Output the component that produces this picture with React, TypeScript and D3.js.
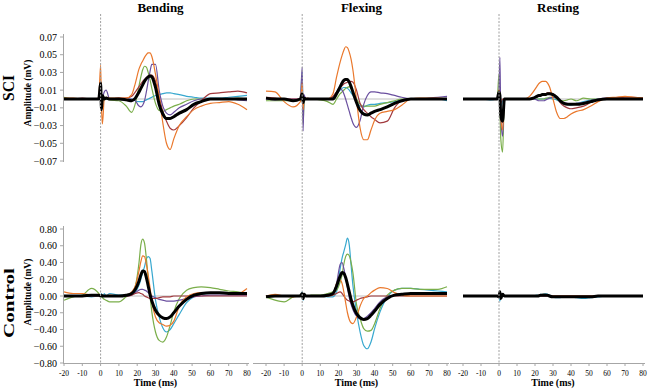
import * as d3 from "d3";

// time points (ms) shared by every trace
const TIME = [-20, -15, -10, -5, -1, 0, 0.5, 1, 2, 3, 5, 10, 14, 17, 19, 21, 22, 23, 24, 25, 26, 27, 28, 30, 32, 34, 36, 38, 40, 43, 47, 51, 55, 60, 65, 70, 75, 80];

// SCI - Bending (mV)
const sciBendOrange = [0.001, 0.001, 0.000, 0.000, 0.001, 0.038, -0.010, -0.028, 0.000, 0.002, 0.001, 0.001, 0.001, 0.005, 0.018, 0.034, 0.039, 0.043, 0.047, 0.050, 0.052, 0.052, 0.048, 0.028, 0.003, -0.027, -0.050, -0.057, -0.045, -0.030, -0.020, -0.012, -0.008, -0.005, -0.004, -0.003, -0.006, -0.012];
const sciBendGreen = [0.002, 0.000, 0.000, 0.000, 0.000, 0.004, 0.000, -0.003, 0.000, 0.000, -0.001, -0.002, -0.008, -0.015, -0.005, 0.015, 0.025, 0.033, 0.037, 0.036, 0.030, 0.022, 0.012, -0.005, -0.013, -0.014, -0.012, -0.010, -0.008, -0.006, -0.002, 0.000, 0.000, 0.000, 0.000, 0.000, 0.001, 0.000];
const sciBendPurple = [0.000, 0.000, 0.000, 0.000, 0.000, 0.003, -0.005, 0.000, 0.008, 0.010, 0.000, 0.001, 0.000, 0.000, -0.002, -0.008, -0.009, -0.007, -0.002, 0.008, 0.020, 0.031, 0.039, 0.039, 0.010, -0.008, -0.016, -0.018, -0.015, -0.010, -0.006, -0.002, 0.000, 0.000, 0.000, 0.000, -0.001, -0.002];
const sciBendTeal = [0.001, 0.000, 0.000, 0.000, 0.000, 0.002, 0.000, 0.000, 0.000, 0.000, 0.000, 0.000, 0.000, 0.000, -0.002, -0.003, -0.003, -0.003, -0.002, -0.001, 0.000, 0.001, 0.002, 0.004, 0.005, 0.006, 0.007, 0.007, 0.006, 0.005, 0.003, 0.002, 0.001, 0.001, 0.001, 0.002, 0.003, 0.004];
const sciBendRed = [0.000, 0.000, 0.001, 0.000, 0.000, 0.002, 0.000, 0.000, 0.001, 0.001, 0.000, 0.001, 0.001, 0.003, 0.008, 0.014, 0.017, 0.020, 0.022, 0.024, 0.026, 0.027, 0.027, 0.020, 0.002, -0.014, -0.025, -0.033, -0.035, -0.030, -0.021, -0.010, -0.002, 0.006, 0.007, 0.008, 0.009, 0.007];
const sciBendMean = [0.000, 0.000, 0.000, 0.000, 0.000, 0.018, -0.012, 0.004, 0.000, 0.001, 0.000, 0.000, -0.001, -0.002, 0.001, 0.008, 0.012, 0.016, 0.020, 0.023, 0.025, 0.026, 0.025, 0.013, -0.006, -0.017, -0.022, -0.022, -0.020, -0.016, -0.012, -0.006, -0.003, 0.000, 0.000, 0.000, 0.000, 0.000];

// SCI - Flexing
const sciFlexOrange = [0.009, 0.008, -0.003, -0.009, -0.003, 0.018, -0.012, 0.000, 0.001, 0.000, 0.000, 0.000, 0.000, 0.006, 0.025, 0.042, 0.049, 0.055, 0.059, 0.058, 0.053, 0.045, 0.033, -0.001, -0.033, -0.046, -0.046, -0.035, -0.024, -0.016, -0.014, -0.012, -0.007, 0.000, 0.001, 0.001, 0.001, 0.000];
const sciFlexGreen = [-0.002, -0.002, -0.002, -0.002, 0.000, 0.010, -0.027, -0.005, 0.000, 0.000, 0.000, -0.001, -0.003, -0.006, 0.000, 0.006, 0.008, 0.010, 0.012, 0.013, 0.014, 0.012, 0.008, 0.000, -0.006, -0.008, -0.008, -0.008, -0.008, -0.006, -0.004, -0.002, 0.000, 0.000, 0.000, 0.000, 0.000, 0.000];
const sciFlexPurple = [0.000, -0.001, 0.000, 0.000, 0.000, 0.036, -0.036, 0.005, 0.000, 0.000, 0.000, 0.000, 0.000, 0.002, 0.008, 0.012, 0.010, 0.006, 0.000, -0.007, -0.014, -0.021, -0.027, -0.032, -0.024, -0.006, 0.004, 0.008, 0.008, 0.007, 0.006, 0.004, 0.002, 0.000, 0.000, 0.001, 0.002, 0.003];
const sciFlexTeal = [0.001, 0.000, 0.000, -0.001, 0.000, 0.030, -0.020, 0.000, 0.000, 0.000, 0.000, 0.000, 0.000, 0.002, 0.006, 0.010, 0.012, 0.013, 0.013, 0.012, 0.010, 0.007, 0.004, -0.003, -0.008, -0.009, -0.007, -0.006, -0.006, -0.005, -0.004, -0.003, -0.001, 0.000, 0.000, 0.000, 0.000, -0.002];
const sciFlexRed = [0.002, 0.001, 0.000, 0.000, 0.000, 0.005, -0.005, 0.000, 0.000, 0.001, 0.000, 0.000, 0.000, 0.003, 0.008, 0.013, 0.015, 0.017, 0.018, 0.019, 0.020, 0.020, 0.019, 0.010, -0.005, -0.012, -0.016, -0.020, -0.023, -0.027, -0.025, -0.010, -0.002, 0.000, 0.000, 0.000, 0.000, 0.000];
const sciFlexMean = [0.001, 0.000, 0.000, -0.002, 0.000, 0.006, -0.004, 0.001, 0.000, 0.000, 0.000, 0.000, 0.000, 0.000, 0.006, 0.014, 0.018, 0.021, 0.022, 0.022, 0.019, 0.014, 0.008, -0.004, -0.013, -0.017, -0.018, -0.016, -0.014, -0.012, -0.009, -0.005, -0.002, 0.000, 0.000, 0.000, 0.000, 0.000];

// SCI - Resting
const sciRestOrange = [0.000, 0.000, 0.000, 0.000, 0.000, 0.010, 0.005, -0.020, -0.035, 0.000, 0.000, 0.000, 0.000, 0.003, 0.008, 0.014, 0.017, 0.019, 0.020, 0.020, 0.020, 0.018, 0.014, 0.000, -0.015, -0.022, -0.022, -0.020, -0.017, -0.014, -0.012, -0.008, -0.003, 0.001, 0.002, 0.003, 0.002, 0.001];
const sciRestGreen = [0.000, 0.000, 0.000, 0.000, 0.000, 0.028, -0.010, -0.045, -0.060, 0.000, 0.000, 0.000, 0.000, 0.000, 0.000, 0.000, 0.000, 0.000, 0.000, 0.000, 0.001, 0.001, 0.002, 0.002, 0.000, -0.002, -0.002, -0.001, 0.000, -0.002, 0.001, 0.000, 0.000, 0.000, 0.000, 0.000, 0.000, 0.000];
const sciRestPurple = [0.000, 0.000, 0.000, 0.000, 0.000, 0.010, 0.047, -0.020, -0.042, 0.000, 0.000, 0.000, 0.000, 0.000, 0.000, -0.001, -0.002, -0.002, -0.002, -0.002, -0.001, 0.000, 0.001, 0.002, 0.001, -0.002, -0.004, -0.005, -0.006, -0.005, -0.004, -0.002, 0.000, 0.001, 0.001, 0.000, 0.000, 0.000];
const sciRestTeal = [0.000, 0.000, 0.000, -0.001, 0.000, 0.003, -0.006, -0.008, -0.002, 0.000, 0.000, 0.000, 0.000, 0.000, 0.000, 0.000, 0.000, 0.000, 0.000, 0.000, 0.000, 0.001, 0.001, 0.000, -0.001, -0.003, -0.005, -0.006, -0.007, -0.005, -0.003, -0.001, 0.000, 0.000, 0.000, 0.000, 0.000, 0.000];
const sciRestRed = [0.000, 0.000, 0.000, 0.000, 0.000, 0.005, 0.000, -0.005, 0.000, 0.000, 0.000, 0.000, 0.000, 0.000, 0.001, 0.002, 0.003, 0.004, 0.004, 0.005, 0.006, 0.007, 0.007, 0.006, 0.002, -0.004, -0.008, -0.010, -0.011, -0.010, -0.008, -0.004, -0.001, 0.001, 0.001, 0.002, 0.002, 0.001];
const sciRestMean = [0.000, 0.000, 0.000, 0.000, 0.000, 0.008, 0.004, -0.020, -0.025, 0.000, 0.000, 0.000, 0.000, 0.000, 0.001, 0.003, 0.004, 0.004, 0.005, 0.005, 0.005, 0.006, 0.006, 0.005, 0.002, -0.002, -0.005, -0.006, -0.006, -0.006, -0.005, -0.003, -0.001, 0.000, 0.000, 0.000, 0.000, 0.000];

// Control - Bending
const ctlBendOrange = [0.05, 0.03, 0.03, 0.01, 0.02, 0.00, 0.01, 0.00, 0.00, 0.00, 0.01, 0.00, 0.01, 0.05, 0.12, 0.30, 0.41, 0.48, 0.47, 0.38, 0.25, 0.10, -0.07, -0.25, -0.32, -0.34, -0.36, -0.35, -0.30, -0.12, -0.01, 0.03, 0.04, 0.04, 0.04, 0.03, 0.03, 0.09];
const ctlBendGreen = [-0.05, -0.01, 0.01, 0.09, 0.03, 0.00, -0.01, -0.02, -0.04, -0.05, -0.07, -0.07, -0.01, 0.03, 0.12, 0.40, 0.61, 0.68, 0.63, 0.45, 0.21, 0.00, -0.19, -0.43, -0.53, -0.55, -0.49, -0.35, -0.19, -0.03, 0.07, 0.10, 0.11, 0.10, 0.08, 0.06, 0.05, 0.03];
const ctlBendPurple = [0.00, 0.00, 0.00, 0.00, 0.00, 0.00, 0.00, 0.00, 0.00, 0.00, 0.00, 0.00, 0.00, 0.01, 0.04, 0.07, 0.08, 0.08, 0.07, 0.06, 0.04, 0.02, 0.00, -0.02, -0.04, -0.05, -0.06, -0.06, -0.06, -0.05, -0.03, -0.01, 0.00, 0.01, 0.01, 0.01, 0.01, 0.01];
const ctlBendTeal = [0.00, 0.00, 0.00, -0.01, 0.00, 0.00, 0.03, -0.02, 0.03, 0.00, 0.03, 0.01, 0.01, 0.03, 0.05, 0.13, 0.20, 0.28, 0.35, 0.44, 0.47, 0.45, 0.30, -0.05, -0.25, -0.38, -0.43, -0.40, -0.33, -0.22, -0.08, -0.01, 0.02, 0.03, 0.03, 0.03, 0.03, 0.02];
const ctlBendRed = [0.00, 0.00, 0.00, 0.00, 0.00, 0.00, 0.00, 0.00, 0.00, 0.00, 0.00, 0.00, 0.00, 0.01, 0.03, 0.04, 0.03, 0.02, 0.00, -0.01, -0.02, -0.03, -0.03, -0.03, -0.02, -0.01, -0.01, -0.01, 0.00, 0.00, 0.00, 0.00, 0.00, 0.00, 0.00, 0.00, 0.00, 0.00];
const ctlBendMean = [0.00, 0.00, 0.00, 0.01, 0.01, 0.00, 0.01, 0.00, 0.00, 0.00, 0.00, 0.00, 0.01, 0.03, 0.08, 0.18, 0.25, 0.30, 0.29, 0.22, 0.12, 0.02, -0.06, -0.17, -0.23, -0.26, -0.27, -0.25, -0.20, -0.12, -0.04, 0.01, 0.03, 0.04, 0.04, 0.03, 0.03, 0.03];

// Control - Flexing
const ctlFlexOrange = [0.00, 0.02, 0.00, -0.01, 0.00, 0.00, 0.00, 0.00, 0.00, 0.00, 0.00, 0.00, 0.00, 0.02, 0.15, 0.19, 0.15, 0.05, -0.08, -0.20, -0.28, -0.32, -0.33, -0.25, -0.12, -0.03, 0.00, 0.04, 0.07, 0.10, 0.09, 0.04, 0.01, 0.00, 0.00, 0.00, 0.00, 0.00];
const ctlFlexGreen = [-0.01, -0.05, -0.07, -0.01, 0.01, 0.03, 0.00, 0.00, 0.00, 0.00, 0.01, 0.01, 0.03, 0.05, 0.07, 0.17, 0.25, 0.38, 0.47, 0.50, 0.48, 0.40, 0.28, -0.10, -0.27, -0.39, -0.42, -0.41, -0.33, -0.15, 0.01, 0.07, 0.09, 0.09, 0.08, 0.08, 0.08, 0.11];
const ctlFlexPurple = [0.00, 0.00, 0.00, 0.00, 0.00, 0.00, 0.00, 0.00, 0.00, 0.00, 0.00, 0.00, 0.00, 0.03, 0.15, 0.38, 0.40, 0.33, 0.22, 0.10, -0.02, -0.10, -0.16, -0.24, -0.27, -0.27, -0.24, -0.20, -0.15, -0.07, -0.01, 0.01, 0.02, 0.02, 0.02, 0.02, 0.02, 0.02];
const ctlFlexTeal = [0.00, 0.00, 0.00, 0.00, 0.00, 0.05, -0.05, 0.03, 0.00, 0.00, 0.00, 0.00, -0.01, -0.01, 0.05, 0.33, 0.45, 0.53, 0.61, 0.69, 0.61, 0.37, 0.13, -0.19, -0.43, -0.59, -0.63, -0.55, -0.39, -0.19, -0.01, 0.07, 0.09, 0.09, 0.08, 0.07, 0.06, 0.05];
const ctlFlexRed = [0.00, 0.00, 0.00, 0.00, 0.00, 0.00, 0.00, 0.00, 0.00, 0.00, 0.00, 0.00, 0.00, 0.01, 0.03, 0.05, 0.03, 0.00, -0.03, -0.05, -0.06, -0.07, -0.07, -0.05, -0.03, -0.02, -0.01, 0.00, 0.00, 0.00, 0.00, 0.00, 0.00, 0.00, 0.00, 0.00, 0.00, 0.00];
const ctlFlexMean = [-0.01, 0.00, 0.00, 0.00, 0.00, 0.03, -0.03, 0.02, 0.00, 0.00, 0.00, 0.00, 0.01, 0.03, 0.12, 0.24, 0.28, 0.27, 0.22, 0.14, 0.05, -0.04, -0.11, -0.21, -0.26, -0.28, -0.27, -0.23, -0.18, -0.10, -0.03, 0.01, 0.02, 0.03, 0.03, 0.03, 0.03, 0.03];

// Control - Resting
const ctlRestOrange = [0.00, 0.00, 0.00, 0.00, 0.00, 0.00, 0.01, 0.00, 0.00, 0.00, 0.00, 0.00, 0.00, 0.00, 0.00, 0.00, 0.01, 0.01, 0.02, 0.02, 0.02, 0.01, 0.00, 0.00, 0.00, 0.00, 0.00, 0.00, 0.00, 0.00, 0.00, 0.00, 0.00, 0.00, 0.00, 0.00, 0.00, 0.00];
const ctlRestGreen = [0.00, 0.00, 0.00, 0.00, 0.00, 0.00, 0.01, 0.00, 0.00, 0.00, 0.00, 0.00, 0.00, 0.00, 0.00, 0.00, 0.00, 0.00, 0.01, 0.01, 0.01, 0.00, 0.00, 0.00, 0.00, 0.00, 0.00, 0.00, 0.00, 0.00, 0.00, 0.00, 0.00, 0.00, 0.00, 0.00, 0.00, 0.00];
const ctlRestPurple = [0.00, 0.00, 0.00, 0.00, 0.00, 0.00, 0.00, 0.00, 0.00, 0.00, 0.00, 0.00, 0.00, 0.00, 0.00, 0.00, 0.00, 0.00, 0.00, 0.00, 0.00, 0.00, 0.00, 0.00, 0.00, 0.00, 0.00, 0.00, 0.00, 0.00, 0.00, 0.00, 0.00, 0.00, 0.00, 0.00, 0.00, 0.00];
const ctlRestTeal = [0.00, 0.00, 0.00, 0.00, 0.00, 0.00, -0.06, 0.02, 0.00, 0.00, 0.00, 0.00, 0.00, 0.00, 0.00, 0.01, 0.01, 0.02, 0.02, 0.03, 0.03, 0.02, 0.01, -0.01, -0.02, -0.02, -0.01, -0.01, -0.01, -0.02, -0.03, -0.02, -0.01, 0.00, 0.00, 0.00, 0.00, 0.00];
const ctlRestRed = [0.00, 0.00, 0.00, 0.00, 0.00, 0.00, 0.00, 0.00, 0.00, 0.00, 0.00, 0.00, 0.00, 0.00, 0.00, 0.00, 0.00, 0.00, 0.00, 0.00, 0.00, 0.00, 0.00, 0.00, 0.00, 0.00, 0.00, 0.00, 0.00, 0.00, 0.00, 0.00, 0.00, 0.00, 0.00, 0.00, 0.00, 0.00];
const ctlRestMean = [0.00, 0.00, 0.00, 0.00, 0.00, -0.01, 0.05, -0.03, 0.02, 0.00, 0.00, 0.00, 0.00, 0.00, 0.00, 0.00, 0.00, 0.01, 0.01, 0.01, 0.01, 0.01, 0.00, -0.01, -0.01, -0.01, -0.01, -0.01, -0.01, -0.01, -0.01, -0.01, 0.00, 0.00, 0.00, 0.00, 0.00, 0.00];

const conditions = ["Bending", "Flexing", "Resting"];
const sciTicks = [0.07, 0.05, 0.03, 0.01, -0.01, -0.03, -0.05, -0.07];
const controlTicks = [0.8, 0.6, 0.4, 0.2, 0, -0.2, -0.4, -0.6, -0.8];
const timeTicks = [-20, -10, 0, 10, 20, 30, 40, 50, 60, 70, 80];

const colors: Record<string, string> = {
    teal: "#37a8cf", green: "#7aae4a", purple: "#6a4f9f", red: "#a23a3e", orange: "#ea782c", mean: "#000000"
};

const traces = [
    [
        { teal: sciBendTeal, green: sciBendGreen, purple: sciBendPurple, red: sciBendRed, orange: sciBendOrange, mean: sciBendMean },
        { teal: sciFlexTeal, green: sciFlexGreen, purple: sciFlexPurple, red: sciFlexRed, orange: sciFlexOrange, mean: sciFlexMean },
        { teal: sciRestTeal, green: sciRestGreen, purple: sciRestPurple, red: sciRestRed, orange: sciRestOrange, mean: sciRestMean },
    ],
    [
        { teal: ctlBendTeal, green: ctlBendGreen, purple: ctlBendPurple, red: ctlBendRed, orange: ctlBendOrange, mean: ctlBendMean },
        { teal: ctlFlexTeal, green: ctlFlexGreen, purple: ctlFlexPurple, red: ctlFlexRed, orange: ctlFlexOrange, mean: ctlFlexMean },
        { teal: ctlRestTeal, green: ctlRestGreen, purple: ctlRestPurple, red: ctlRestRed, orange: ctlRestOrange, mean: ctlRestMean },
    ],
];

const drawOrder = ["teal", "green", "purple", "red", "orange", "mean"];

const FONT = "'Liberation Serif', 'Times New Roman', serif";

function App() {
    const width = 650
    const height = 392
    const cols = [{ x0: 64, x1: 247 }, { x0: 266, x1: 447 }, { x0: 463, x1: 643 }]
    const rows = [
        { top: 37, bottom: 161, domain: [-0.07, 0.07], ticks: sciTicks, fmt: d3.format(".2f"), label: "SCI", mid: 88 },
        { top: 229, bottom: 363, domain: [-0.8, 0.8], ticks: controlTicks, fmt: d3.format(".2f"), label: "Control", mid: 303 },
    ]
    const axisBottom = 363

    return (
        <svg width={width} height={height} style={{ position: "absolute", left: 0, top: 0, background: "#ffffff" }} fontFamily={FONT}>
            {rows.map((row, r) => {
                const y = d3.scaleLinear().domain(row.domain).range([row.bottom, row.top])
                return (
                    <g key={row.label}>
                        {/* row label */}
                        <text transform={`translate(14, ${row.mid}) rotate(-90)`} textAnchor="middle" fontSize={r === 0 ? 16 : 15}
                            fontWeight="bold" textLength={r === 0 ? 26 : 70} lengthAdjust="spacingAndGlyphs">{row.label}</text>
                        <text transform={`translate(31, ${r === 0 ? 93 : 292}) rotate(-90)`} textAnchor="middle" fontSize={9.5} fontWeight="bold">Amplitude (mV)</text>

                        {/* y axis */}
                        <line x1={63.5} x2={63.5} y1={row.top - 3} y2={row.bottom + 1} stroke="#a6a6a6" />
                        {row.ticks.map(t => (
                            <g key={t}>
                                <line x1={60} x2={63.5} y1={y(t)} y2={y(t)} stroke="#a6a6a6" />
                                <text x={57} y={y(t)} dy="0.35em" textAnchor="end" fontSize={10}>{row.fmt(t)}</text>
                            </g>
                        ))}

                        {cols.map((col, c) => {
                            const x = d3.scaleLinear().domain([-20, 80]).range([col.x0, col.x1])
                            const line = d3.line<number>().x((_, i) => x(TIME[i])).y(d => y(d)).curve(d3.curveMonotoneX)
                            const set = traces[r][c] as Record<string, number[]>
                            return (
                                <g key={c}>
                                    <line x1={x(-20)} x2={x(80)} y1={y(0)} y2={y(0)} stroke="#c0c0c0" />
                                    {drawOrder.map(k => (
                                        <path key={k} d={line(set[k])!} fill="none" stroke={colors[k]}
                                            strokeWidth={k === "mean" ? 3 : 1.2} strokeLinejoin="round" />
                                    ))}
                                </g>
                            )
                        })}
                    </g>
                )
            })}

            {cols.map((col, c) => {
                const x = d3.scaleLinear().domain([-20, 80]).range([col.x0, col.x1])
                return (
                    <g key={`c${c}`}>
                        <text x={(col.x0 + col.x1) / 2 + 5} y={12} textAnchor="middle" fontSize={13} fontWeight="bold">{conditions[c]}</text>
                        <line x1={x(0)} x2={x(0)} y1={14} y2={axisBottom} stroke="#a0a0a0" strokeDasharray="2,1.5" />
                        <line x1={c === 0 ? 63.5 : col.x0 - 13} x2={col.x1 + 2} y1={axisBottom + 0.5} y2={axisBottom + 0.5} stroke="#a6a6a6" />
                        {timeTicks.map(t => (
                            <g key={t}>
                                <line x1={x(t)} x2={x(t)} y1={axisBottom} y2={axisBottom + 3} stroke="#a6a6a6" />
                                <text x={x(t)} y={375.5} textAnchor="middle" fontSize={7.5}>{t}</text>
                            </g>
                        ))}
                        <text x={(col.x0 + col.x1) / 2} y={386} textAnchor="middle" fontSize={10} fontWeight="bold">Time (ms)</text>
                    </g>
                )
            })}
        </svg>
    )
}

export default App;
